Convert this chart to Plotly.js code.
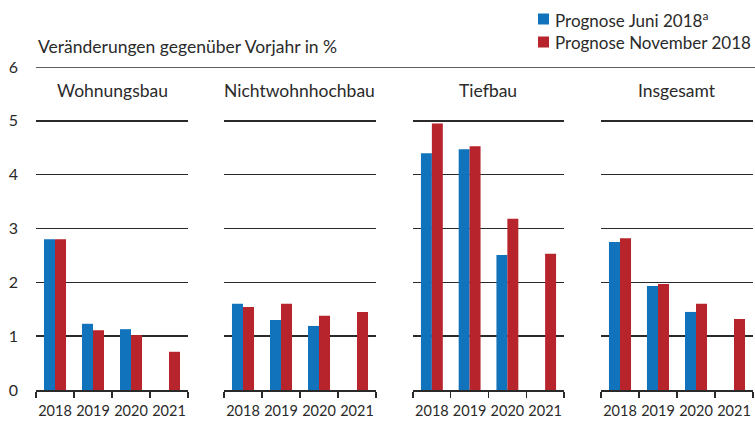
<!DOCTYPE html>
<html>
<head>
<meta charset="utf-8">
<script src="https://cdn.plot.ly/plotly-3.0.1.min.js"></script>
<style>html,body{margin:0;padding:0;background:#fff}#chart{width:755px;height:423px}</style>
</head>
<body>
<div id="chart"></div>
<script>
const years = ["2018", "2019", "2020", "2021"];
const panels = ["Wohnungsbau", "Nichtwohnhochbau", "Tiefbau", "Insgesamt"];
const seriesNames = ["Prognose Juni 2018<sup>a</sup>", "Prognose November 2018"];
const juni = [
  [2.80, 1.23, 1.13, null],
  [1.60, 1.30, 1.19, null],
  [4.40, 4.47, 2.51, null],
  [2.75, 1.93, 1.45, null]
];
const november = [
  [2.80, 1.11, 1.02, 0.71],
  [1.54, 1.60, 1.38, 1.45],
  [4.95, 4.53, 3.18, 2.53],
  [2.82, 1.97, 1.60, 1.32]
];
const yTicks = [0, 1, 2, 3, 4, 5, 6];
const yTitle = "Veränderungen gegenüber Vorjahr in %";

const BLUE = "#1273bd", RED = "#b7242b", INK = "#2a2a2a";
const FONT = "Lato, 'Noto Sans', sans-serif";
const TXT = 17.5;
const domains = [[0, 0.212], [0.2622, 0.4742], [0.5258, 0.7364], [0.788, 1]];

const data = [];
const layout = {
  width: 755, height: 423,
  margin: {l: 36, r: 2, t: 67, b: 33},
  paper_bgcolor: "#fff", plot_bgcolor: "#fff",
  font: {family: FONT, size: 15, color: INK},
  showlegend: false,
  barmode: "group", bargap: 0.42, bargroupgap: 0,
  annotations: [], shapes: []
};

panels.forEach((p, i) => {
  const xa = i === 0 ? "x" : "x" + (i + 1);
  const ya = i === 0 ? "y" : "y" + (i + 1);
  data.push({type: "bar", x: years, y: juni[i], name: seriesNames[0], xaxis: xa, yaxis: ya,
    marker: {color: BLUE}, hoverinfo: "y"});
  data.push({type: "bar", x: years, y: november[i], name: seriesNames[1], xaxis: xa, yaxis: ya,
    marker: {color: RED}, hoverinfo: "y"});
  const xk = i === 0 ? "xaxis" : "xaxis" + (i + 1);
  const yk = i === 0 ? "yaxis" : "yaxis" + (i + 1);
  layout[xk] = {
    domain: domains[i], anchor: ya, type: "category",
    showline: true, linecolor: INK, linewidth: 1.5,
    ticks: "outside", tickson: "boundaries", ticklen: 6, tickcolor: INK, tickwidth: 1.2,
    tickangle: 0, ticklabelstandoff: 7, tickfont: {family: FONT, size: 14.5, color: INK},
    showgrid: false, zeroline: false, fixedrange: true
  };
  layout[yk] = {
    domain: [0, 1], anchor: xa, range: [0, 6],
    tickvals: yTicks, ticktext: yTicks.map(String),
    showticklabels: i === 0, ticks: "", ticklabelstandoff: 17,
    tickfont: {family: FONT, size: 16, color: INK},
    showgrid: true, gridcolor: INK, gridwidth: 1.5,
    zeroline: false, showline: false, fixedrange: true
  };
  layout.annotations.push({
    text: p, xref: xa + " domain", yref: "paper", x: 0.5, y: 0.926,
    xanchor: "center", yanchor: "middle", showarrow: false,
    font: {family: FONT, size: TXT, color: INK}
  });
});

layout.annotations.push({
  text: yTitle, xref: "paper", yref: "paper", x: 0, y: 1.062,
  xanchor: "left", yanchor: "middle", showarrow: false,
  font: {family: FONT, size: TXT, color: INK}
});

layout.shapes.push({type: "line", xref: "paper", yref: "y", x0: 0, x1: 1.003, y0: 6, y1: 6,
  line: {color: INK, width: 1.5}});

// legend
const legColors = [BLUE, RED];
const legY = [19, 42];
seriesNames.forEach((n, k) => {
  const yc = (390 - legY[k]) / 323;
  layout.shapes.push({type: "rect", xref: "paper", yref: "paper",
    x0: (538 - 36) / 717, x1: (549 - 36) / 717, y0: yc - 5.5 / 323, y1: yc + 5.5 / 323,
    fillcolor: legColors[k], line: {width: 0}});
  layout.annotations.push({
    text: n, xref: "paper", yref: "paper", x: (553 - 36) / 717, y: yc,
    xanchor: "left", yanchor: "middle", showarrow: false,
    font: {family: FONT, size: 17, color: INK}
  });
});

Plotly.newPlot("chart", data, layout, {displayModeBar: false, staticPlot: true});
</script>
</body>
</html>
